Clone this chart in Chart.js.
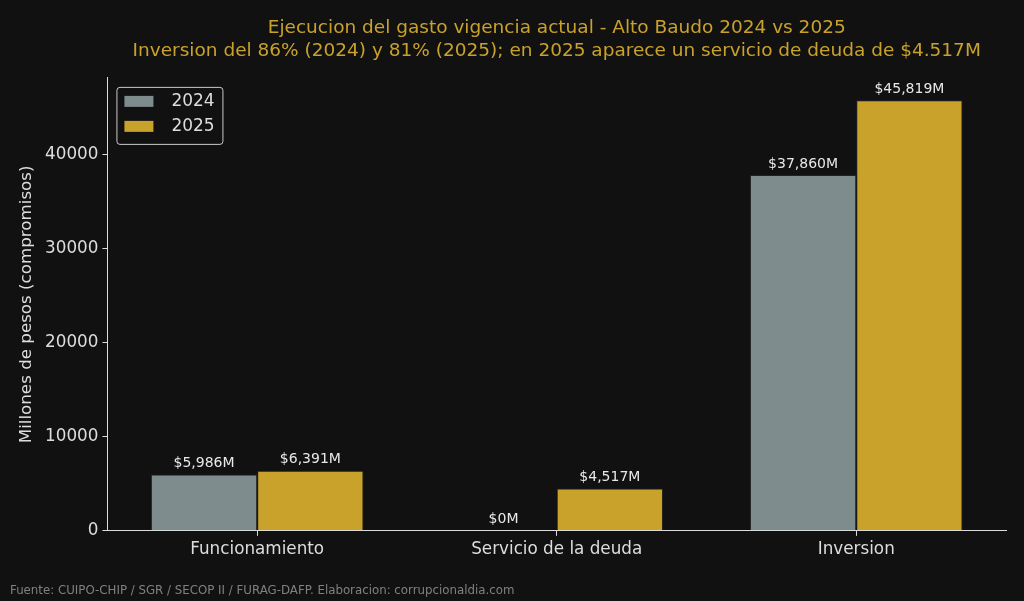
<!DOCTYPE html>
<html>
<head>
<meta charset="utf-8">
<script src="https://cdn.jsdelivr.net/npm/chart.js@4.4.1/dist/chart.umd.min.js"></script>
<style>
  html, body { margin: 0; padding: 0; background: #111111; }
  #wrap { width: 1024px; height: 601px; position: relative; }
</style>
</head>
<body>
<div id="wrap"><canvas id="chart"></canvas></div>
<script>
const categories = ['Funcionamiento', 'Servicio de la deuda', 'Inversion'];
const series2024 = [5986, 0, 37860];
const series2025 = [6391, 4517, 45819];
const seriesNames = ['2024', '2025'];
const yTicks = [0, 10000, 20000, 30000, 40000];

const FONT = "'DejaVu Sans', sans-serif";
const GRAY = '#7f8c8d';
const GOLD = '#c9a22b';
const TEXT = '#dddddd';

const fmt = v => '$' + v.toLocaleString('en-US') + 'M';

// value labels above each bar
const barLabels = {
    id: 'barLabels',
    afterDatasetsDraw(chart) {
        const ctx = chart.ctx;
        ctx.save();
        ctx.font = '14px ' + FONT;
        ctx.fillStyle = '#e8e8e8';
        ctx.textAlign = 'center';
        ctx.textBaseline = 'bottom';
        chart.data.datasets.forEach((ds, i) => {
            chart.getDatasetMeta(i).data.forEach((bar, j) => {
                ctx.fillText(fmt(ds.data[j]), bar.x, bar.y - 4);
            });
        });
        ctx.restore();
    }
};

// boxed legend inside the plot, top-left
const boxLegend = {
    id: 'boxLegend',
    afterDraw(chart) {
        const ctx = chart.ctx;
        const a = chart.chartArea;
        const x = a.left + 9, y = a.top + 9, w = 106, h = 57;
        ctx.save();
        ctx.fillStyle = 'rgba(17,17,17,0.8)';
        ctx.strokeStyle = '#cccccc';
        ctx.lineWidth = 1;
        ctx.beginPath();
        ctx.roundRect(x + 0.5, y + 0.5, w, h, 3);
        ctx.fill();
        ctx.stroke();
        ctx.font = '17px ' + FONT;
        ctx.textBaseline = 'middle';
        chart.data.datasets.forEach((ds, i) => {
            const cy = y + 14 + i * 25;
            ctx.fillStyle = ds.backgroundColor;
            ctx.fillRect(x + 8, cy - 5, 29, 11);
            ctx.fillStyle = TEXT;
            ctx.fillText(ds.label, x + 55, cy + 1);
        });
        ctx.restore();
    }
};

// source footer
const footer = {
    id: 'footer',
    afterDraw(chart) {
        const ctx = chart.ctx;
        ctx.save();
        ctx.font = '11.8px ' + FONT;
        ctx.fillStyle = '#808080';
        ctx.textBaseline = 'middle';
        ctx.fillText('Fuente: CUIPO-CHIP / SGR / SECOP II / FURAG-DAFP. Elaboracion: corrupcionaldia.com', 10, 591);
        ctx.restore();
    }
};

const ctx = document.getElementById('chart').getContext('2d');

const chart = new Chart(ctx, {
    type: 'bar',
    data: {
        labels: categories,
        datasets: [{
            label: seriesNames[0],
            data: series2024,
            backgroundColor: GRAY,
            borderColor: '#222222',
            borderWidth: 1
        }, {
            label: seriesNames[1],
            data: series2025,
            backgroundColor: GOLD,
            borderColor: '#222222',
            borderWidth: 1
        }]
    },
    options: {
        responsive: true,
        maintainAspectRatio: false,
        animation: false,
        layout: {
            padding: { left: 17, right: 18, top: 10, bottom: 37 }
        },
        datasets: {
            bar: {
                categoryPercentage: 0.71,
                barPercentage: 1.0
            }
        },
        plugins: {
            legend: { display: false },
            tooltip: { enabled: false },
            title: {
                display: true,
                fullSize: false,
                text: ['Ejecucion del gasto vigencia actual - Alto Baudo 2024 vs 2025',
                       'Inversion del 86% (2024) y 81% (2025); en 2025 aparece un servicio de deuda de $4.517M'],
                color: GOLD,
                font: { family: FONT, size: 18.5, weight: 'normal', lineHeight: 1.24 },
                padding: { top: 7, bottom: 15 }
            }
        },
        scales: {
            x: {
                grid: {
                    display: true,
                    offset: false,
                    drawOnChartArea: false,
                    drawTicks: true,
                    tickLength: 5,
                    color: TEXT
                },
                border: { display: true, color: TEXT, width: 1 },
                ticks: {
                    color: TEXT,
                    font: { family: FONT, size: 16.8 },
                    padding: 4
                }
            },
            y: {
                min: 0,
                max: 48200,
                afterBuildTicks: axis => {
                    axis.ticks = yTicks.map(v => ({ value: v }));
                },
                grid: {
                    display: true,
                    drawOnChartArea: false,
                    drawTicks: true,
                    tickLength: 5,
                    color: TEXT
                },
                border: { display: true, color: TEXT, width: 1 },
                ticks: {
                    color: TEXT,
                    font: { family: FONT, size: 16.8 },
                    padding: 4,
                    callback: v => String(v)
                },
                title: {
                    display: true,
                    text: 'Millones de pesos (compromisos)',
                    color: TEXT,
                    font: { family: FONT, size: 16.7 },
                    padding: { top: 0, bottom: 4 }
                }
            }
        }
    },
    plugins: [barLabels, boxLegend, footer]
});
</script>
</body>
</html>
